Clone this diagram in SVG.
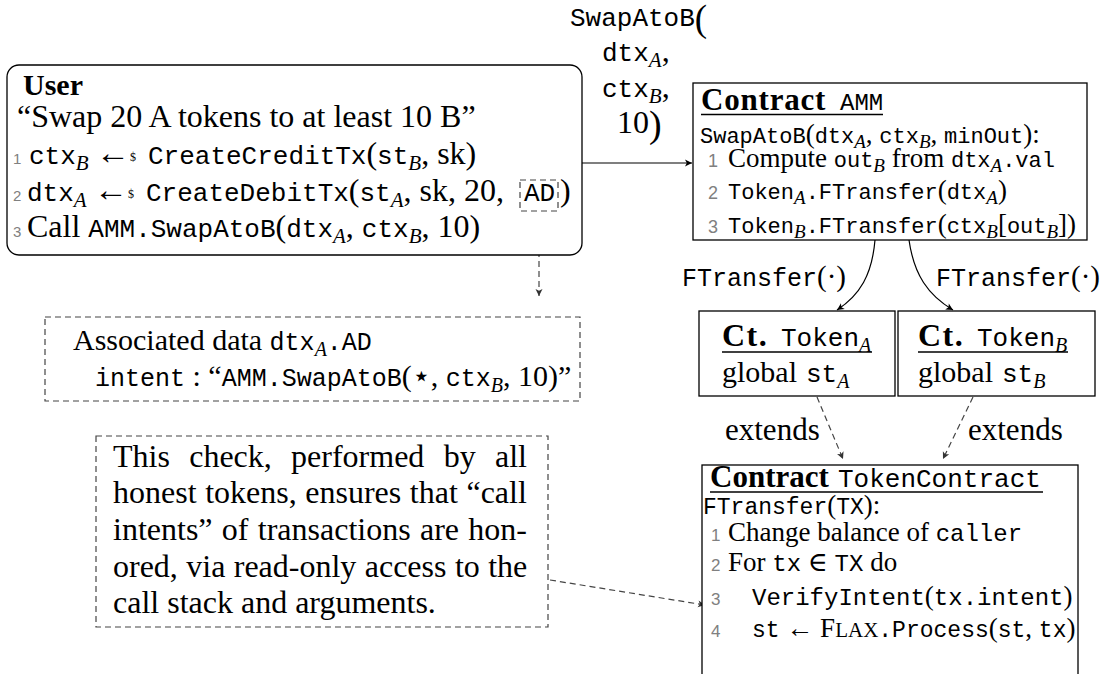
<svg xmlns="http://www.w3.org/2000/svg" width="1104" height="674" viewBox="0 0 1104 674">
<defs>
<style>
text, tspan { fill: #000; }
.s { font-family: "Liberation Serif", "DejaVu Serif", serif; }
.m { font-family: "Liberation Mono", "DejaVu Sans Mono", monospace; }
.b { font-weight: bold; }
.i { font-style: italic; font-family: "Liberation Serif", "DejaVu Serif", serif; }
.n { font-family: "Liberation Sans", "DejaVu Sans", sans-serif; fill: #808080; }
.box { fill: #fff; stroke: #000; stroke-width: 1.3; }
.dbox { fill: none; stroke: #444; stroke-width: 1.2; stroke-dasharray: 6 4; }
.conn { fill: none; stroke: #000; stroke-width: 1.2; }
.dconn { fill: none; stroke: #444; stroke-width: 1.2; stroke-dasharray: 6 4; }
.ul { stroke: #000; stroke-width: 1.3; }
</style>
<marker id="ah" viewBox="-8 -5 9 10" refX="0" refY="0" markerWidth="9" markerHeight="10" markerUnits="userSpaceOnUse" orient="auto"><path d="M0,0 L-7,-3.5 L-5.2,0 L-7,3.5 Z" fill="#000"/></marker>
<marker id="ahg" viewBox="-8 -5 9 10" refX="0" refY="0" markerWidth="9" markerHeight="10" markerUnits="userSpaceOnUse" orient="auto"><path d="M0,0 L-7,-3.5 L-5.2,0 L-7,3.5 Z" fill="#333"/></marker>
</defs>
<rect width="1104" height="674" fill="#fff"/>

<g id="connectors">
<path class="conn" d="M582,163 L692,163" marker-end="url(#ah)"/>
<path class="conn" d="M875,240 C872,275 860,295 837,310" marker-end="url(#ah)"/>
<path class="conn" d="M909,240 C914,275 928,295 953,310" marker-end="url(#ah)"/>
<path class="dconn" d="M817,397 L843,459" marker-end="url(#ahg)"/>
<path class="dconn" d="M973,397 L943,459" marker-end="url(#ahg)"/>
<path class="dconn" d="M539,211 L539,296" marker-end="url(#ahg)"/>
<path class="dconn" d="M550,580 L705,605" marker-end="url(#ahg)"/>
</g>

<g id="call-label">
<text y="26" font-size="26"><tspan x="570" class="m">SwapAtoB</tspan><tspan class="s" font-size="37" dy="5">(</tspan></text>
<text y="61" font-size="26"><tspan x="602" class="m">dtx</tspan><tspan class="i" font-size="21" dy="6">A</tspan><tspan class="s" font-size="32" dy="-6">,</tspan></text>
<text y="97" font-size="26"><tspan x="602" class="m">ctx</tspan><tspan class="i" font-size="21" dy="6">B</tspan><tspan class="s" font-size="32" dy="-6">,</tspan></text>
<text y="133" font-size="32" class="s"><tspan x="617">10</tspan><tspan font-size="38" dy="4">)</tspan></text>
</g>

<g id="user">
<rect class="box" x="7" y="65" width="575" height="190" rx="12"/>
<text x="23" y="95" class="s b" font-size="30">User</text>
<text x="17" y="127" class="s" font-size="32">“Swap 20 A tokens to at least 10 B”</text>
<text y="164" class="s" font-size="32"><tspan x="13" class="n" font-size="15">1</tspan><tspan x="29" class="m" font-size="26">ctx</tspan><tspan class="i" font-size="21" dy="6">B</tspan><tspan x="96" dy="-6" font-size="34">←</tspan><tspan font-size="12" dy="-3">$</tspan><tspan x="148" dy="3" class="m" font-size="26">CreateCreditTx</tspan><tspan>(</tspan><tspan class="m" font-size="26">st</tspan><tspan class="i" font-size="21" dy="6">B</tspan><tspan dy="-6">, sk)</tspan></text>
<text y="201" class="s" font-size="32"><tspan x="13" class="n" font-size="15">2</tspan><tspan x="27" class="m" font-size="26">dtx</tspan><tspan class="i" font-size="21" dy="6">A</tspan><tspan x="94" dy="-6" font-size="34">←</tspan><tspan font-size="12" dy="-3">$</tspan><tspan x="146" dy="3" class="m" font-size="26">CreateDebitTx</tspan><tspan>(</tspan><tspan class="m" font-size="26">st</tspan><tspan class="i" font-size="21" dy="6">A</tspan><tspan dy="-6">, sk, 20, </tspan><tspan x="524" class="m" font-size="26">AD</tspan><tspan x="560">)</tspan></text>
<rect class="dbox" x="520" y="180" width="38" height="31"/>
<text y="237" class="s" font-size="32"><tspan x="13" class="n" font-size="15">3</tspan><tspan x="27">Call </tspan><tspan class="m" font-size="26">AMM.SwapAtoB</tspan><tspan>(</tspan><tspan class="m" font-size="26">dtx</tspan><tspan class="i" font-size="21" dy="6">A</tspan><tspan dy="-6">, </tspan><tspan class="m" font-size="26">ctx</tspan><tspan class="i" font-size="21" dy="6">B</tspan><tspan dy="-6">, 10)</tspan></text>
</g>

<g id="associated-data">
<rect class="dbox" x="45" y="317" width="535" height="84"/>
<text y="350" class="s" font-size="30"><tspan x="73">Associated data </tspan><tspan class="m" font-size="25">dtx</tspan><tspan class="i" font-size="20" dy="6">A</tspan><tspan class="m" font-size="25" dy="-6">.AD</tspan></text>
<text y="386" class="s" font-size="30"><tspan x="95" class="m" font-size="25">intent</tspan><tspan> : “</tspan><tspan class="m" font-size="25">AMM.SwapAtoB</tspan><tspan>(⋆, </tspan><tspan class="m" font-size="25">ctx</tspan><tspan class="i" font-size="20" dy="6">B</tspan><tspan dy="-6">, 10)”</tspan></text>
</g>

<g id="check-note">
<rect class="dbox" x="96" y="436" width="452" height="191"/>
<text class="s" font-size="32">
<tspan x="113" y="467" word-spacing="11.3">This check, performed by all</tspan><tspan x="113" y="503" word-spacing="0.6">honest tokens, ensures that “call</tspan><tspan x="113" y="540" word-spacing="1.3">intents” of transactions are hon-</tspan><tspan x="113" y="577" word-spacing="0.4">ored, via read-only access to the</tspan><tspan x="113" y="613">call stack and arguments.</tspan></text>
</g>

<g id="amm">
<rect class="box" x="693" y="83" width="394" height="157"/>
<text y="110"><tspan x="701" class="s b" font-size="31" letter-spacing="0.8">Contract</tspan><tspan x="840" class="m" font-size="24">AMM</tspan></text>
<line class="ul" x1="701" y1="114.5" x2="883" y2="114.5"/>
<text y="143" class="s" font-size="27"><tspan x="700" class="m" font-size="22">SwapAtoB</tspan><tspan>(</tspan><tspan class="m" font-size="22">dtx</tspan><tspan class="i" font-size="19" dy="5">A</tspan><tspan dy="-5">, </tspan><tspan class="m" font-size="22">ctx</tspan><tspan class="i" font-size="19" dy="5">B</tspan><tspan dy="-5">, </tspan><tspan class="m" font-size="22">minOut</tspan><tspan>):</tspan></text>
<text y="167" class="s" font-size="27"><tspan x="708" class="n" font-size="18">1</tspan><tspan x="728">Compute </tspan><tspan class="m" font-size="22">out</tspan><tspan class="i" font-size="19" dy="5">B</tspan><tspan dy="-5"> from </tspan><tspan class="m" font-size="22">dtx</tspan><tspan class="i" font-size="19" dy="5">A</tspan><tspan class="m" font-size="22" dy="-5">.val</tspan></text>
<text y="199" class="s" font-size="27"><tspan x="708" class="n" font-size="18">2</tspan><tspan x="728" class="m" font-size="22">Token</tspan><tspan class="i" font-size="19" dy="5">A</tspan><tspan class="m" font-size="22" dy="-5">.FTransfer</tspan><tspan>(</tspan><tspan class="m" font-size="22">dtx</tspan><tspan class="i" font-size="19" dy="5">A</tspan><tspan dy="-5">)</tspan></text>
<text y="233" class="s" font-size="27"><tspan x="708" class="n" font-size="18">3</tspan><tspan x="728" class="m" font-size="22">Token</tspan><tspan class="i" font-size="19" dy="5">B</tspan><tspan class="m" font-size="22" dy="-5">.FTransfer</tspan><tspan>(</tspan><tspan class="m" font-size="22">ctx</tspan><tspan class="i" font-size="19" dy="5">B</tspan><tspan dy="-5">[</tspan><tspan class="m" font-size="22">out</tspan><tspan class="i" font-size="19" dy="5">B</tspan><tspan dy="-5">])</tspan></text>
</g>

<g id="ftransfer-labels">
<text y="286" class="s" font-size="29"><tspan x="682" class="m" font-size="25">FTransfer</tspan><tspan>(·)</tspan></text>
<text y="286" class="s" font-size="29"><tspan x="936" class="m" font-size="25">FTransfer</tspan><tspan>(·)</tspan></text>
</g>

<g id="token-a">
<rect class="box" x="699" y="311" width="196" height="85"/>
<text y="346"><tspan x="722" class="s b" font-size="32" letter-spacing="1.5">Ct.</tspan><tspan x="781" class="m" font-size="26">Token</tspan><tspan class="i" font-size="20" dy="6">A</tspan></text>
<line class="ul" x1="722" y1="352" x2="872" y2="352"/>
<text y="382" class="s" font-size="30"><tspan x="722">global </tspan><tspan x="806" class="m" font-size="26">st</tspan><tspan class="i" font-size="20" dy="6">A</tspan></text>
</g>

<g id="token-b">
<rect class="box" x="898" y="311" width="197" height="85"/>
<text y="346"><tspan x="918" class="s b" font-size="32" letter-spacing="1.5">Ct.</tspan><tspan x="977" class="m" font-size="26">Token</tspan><tspan class="i" font-size="20" dy="6">B</tspan></text>
<line class="ul" x1="918" y1="352" x2="1068" y2="352"/>
<text y="382" class="s" font-size="30"><tspan x="918">global </tspan><tspan x="1002" class="m" font-size="26">st</tspan><tspan class="i" font-size="20" dy="6">B</tspan></text>
</g>

<g id="extends-labels">
<text x="725" y="440" class="s" font-size="31">extends</text>
<text x="968" y="440" class="s" font-size="31">extends</text>
</g>

<g id="token-contract">
<rect class="box" x="702" y="465" width="376" height="230"/>
<text y="487"><tspan x="710" class="s b" font-size="31">Contract</tspan><tspan x="838" class="m" font-size="26">TokenContract</tspan></text>
<line class="ul" x1="710" y1="492" x2="1043" y2="492"/>
<text y="514" class="s" font-size="27"><tspan x="703" class="m" font-size="23">FTransfer</tspan><tspan>(</tspan><tspan class="m" font-size="23">TX</tspan><tspan>):</tspan></text>
<text y="541" class="s" font-size="27"><tspan x="711" class="n" font-size="17">1</tspan><tspan x="728">Change balance of </tspan><tspan class="m" font-size="24">caller</tspan></text>
<text y="571" class="s" font-size="27"><tspan x="711" class="n" font-size="17">2</tspan><tspan x="728">For </tspan><tspan class="m" font-size="24">tx</tspan><tspan> ∈ </tspan><tspan class="m" font-size="24">TX</tspan><tspan> do</tspan></text>
<text y="605" class="s" font-size="27"><tspan x="711" class="n" font-size="17">3</tspan><tspan x="752" class="m" font-size="24">VerifyIntent</tspan><tspan>(</tspan><tspan class="m" font-size="24">tx.intent</tspan><tspan>)</tspan></text>
<text y="637" class="s" font-size="27"><tspan x="711" class="n" font-size="17">4</tspan><tspan x="752" class="m" font-size="23">st</tspan><tspan> ← F</tspan><tspan font-size="21">LAX</tspan><tspan class="m" font-size="23">.Process</tspan><tspan>(</tspan><tspan class="m" font-size="23">st</tspan><tspan>, </tspan><tspan class="m" font-size="23">tx</tspan><tspan>)</tspan></text>
</g>
</svg>
